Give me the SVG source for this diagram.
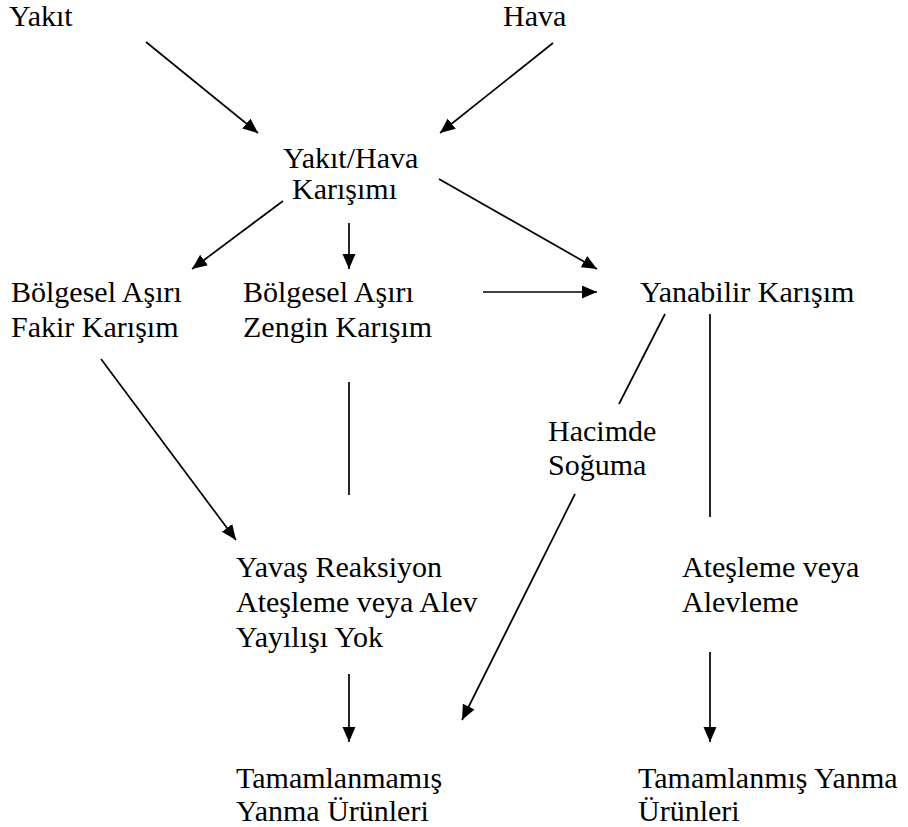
<svg xmlns="http://www.w3.org/2000/svg" width="908" height="827" viewBox="0 0 908 827">
<style>
text{font-family:"Liberation Serif","Times New Roman",serif;font-size:30px;fill:#000}
.c line{stroke:#000;stroke-width:1.7;fill:none}
</style>
<defs>
<marker id="ah" markerUnits="userSpaceOnUse" markerWidth="16" markerHeight="14" refX="15" refY="6.5" orient="auto">
<path d="M0,0 L15,6.5 L0,13 z" fill="#000"/>
</marker>
</defs>
<rect width="908" height="827" fill="#fff"/>
<g class="c" id="connectors">
<line x1="146" y1="42" x2="258" y2="133" marker-end="url(#ah)"/>
<line x1="553" y1="43" x2="440" y2="133" marker-end="url(#ah)"/>
<line x1="283" y1="201" x2="192" y2="269" marker-end="url(#ah)"/>
<line x1="349" y1="223" x2="349" y2="269" marker-end="url(#ah)"/>
<line x1="439" y1="179" x2="597" y2="269" marker-end="url(#ah)"/>
<line x1="483" y1="292" x2="597" y2="292" marker-end="url(#ah)"/>
<line x1="665" y1="314" x2="619" y2="404"/>
<line x1="710" y1="314" x2="710" y2="517"/>
<line x1="101" y1="359" x2="236" y2="540" marker-end="url(#ah)"/>
<line x1="349" y1="382" x2="349" y2="495"/>
<line x1="575" y1="494" x2="462" y2="720" marker-end="url(#ah)"/>
<line x1="349" y1="674" x2="349" y2="742" marker-end="url(#ah)"/>
<line x1="710" y1="652" x2="710" y2="742" marker-end="url(#ah)"/>
</g>
<g id="yakit"><text x="9" y="26">Yakıt</text></g>
<g id="hava"><text x="503" y="26">Hava</text></g>
<g id="karisim"><text x="283" y="168">Yakıt/Hava</text><text x="292" y="199">Karışımı</text></g>
<g id="fakir"><text x="11" y="302">Bölgesel Aşırı</text><text x="11" y="337">Fakir Karışım</text></g>
<g id="zengin"><text x="243" y="302">Bölgesel Aşırı</text><text x="243" y="337">Zengin Karışım</text></g>
<g id="yanabilir"><text x="640" y="302">Yanabilir Karışım</text></g>
<g id="hacimde"><text x="548" y="441">Hacimde</text><text x="548" y="475">Soğuma</text></g>
<g id="yavas"><text x="236" y="577">Yavaş Reaksiyon</text><text x="236" y="612">Ateşleme veya Alev</text><text x="236" y="647">Yayılışı Yok</text></g>
<g id="atesleme"><text x="682" y="577">Ateşleme veya</text><text x="682" y="612">Alevleme</text></g>
<g id="tamamlanmamis"><text x="236" y="788">Tamamlanmamış</text><text x="236" y="821">Yanma Ürünleri</text></g>
<g id="tamamlanmis"><text x="638" y="788">Tamamlanmış Yanma</text><text x="638" y="821">Ürünleri</text></g>
</svg>
